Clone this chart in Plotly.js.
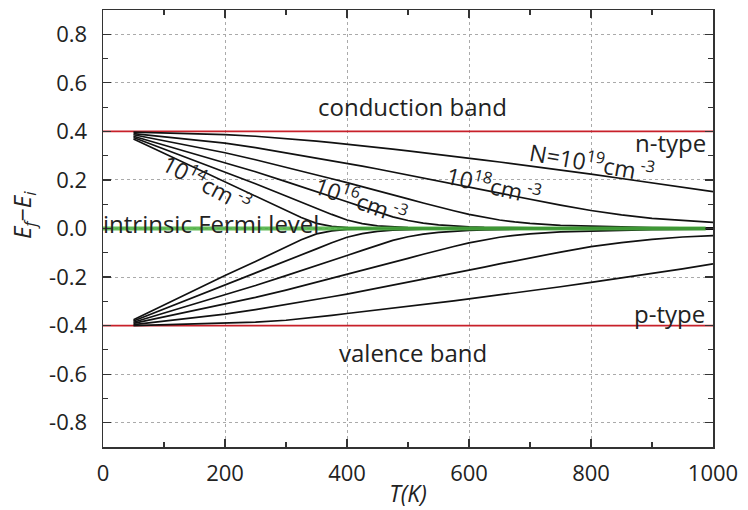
<!DOCTYPE html>
<html>
<head>
<meta charset="utf-8">
<script src="https://cdn.plot.ly/plotly-3.0.1.min.js"></script>
<style>html,body{margin:0;padding:0;background:#fff;}#chart{width:748px;height:510px;}</style>
</head>
<body>
<div id="chart"></div>
<script>
// Temperature samples (K)
const T = [50,100,150,200,250,300,325,350,375,400,425,450,475,500,525,550,575,600,625,650,675,700,750,800,850,900,950,1000];

// n-type curves Ef-Ei (eV)
const n19 = [.397,.394,.390,.387,.380,.371,.366,.360,.354,.348,.341,.334,.327,.320,.313,.306,.298,.290,.282,.274,.266,.258,.241,.224,.206,.189,.171,.152];
const n18 = [.391,.378,.365,.352,.333,.312,.302,.291,.280,.268,.257,.245,.233,.221,.209,.196,.184,.171,.159,.146,.133,.120,.096,.074,.056,.042,.032,.025];
const n17 = [.386,.361,.337,.312,.283,.253,.237,.221,.205,.189,.173,.156,.139,.122,.105,.088,.073,.058,.046,.035,.027,.021,.013,.009,.006,.004,.003,.003];
const n16 = [.380,.344,.309,.273,.234,.193,.173,.152,.131,.110,.089,.068,.048,.033,.022,.015,.010,.007,.005,.004,.003,.002,.001,.001,.001,0,0,0];
const n15 = [.375,.328,.280,.233,.184,.134,.108,.083,.058,.035,.020,.011,.006,.004,.002,.002,.001,.001,0,0,0,0,0,0,0,0,0,0];
const n14 = [.369,.310,.252,.193,.135,.074,.045,.021,.009,.004,.002,.001,0,0,0,0,0,0,0,0,0,0,0,0,0,0,0,0];

// p-type curves Ef-Ei (eV)
const p19 = [-.400,-.397,-.394,-.391,-.386,-.378,-.372,-.365,-.358,-.350,-.343,-.336,-.328,-.321,-.313,-.306,-.298,-.290,-.282,-.273,-.265,-.257,-.240,-.222,-.204,-.186,-.166,-.146];
const p18 = [-.396,-.382,-.367,-.353,-.334,-.314,-.303,-.292,-.281,-.270,-.258,-.246,-.234,-.222,-.209,-.196,-.184,-.171,-.159,-.146,-.133,-.121,-.097,-.075,-.058,-.045,-.035,-.029];
const p17 = [-.391,-.365,-.339,-.313,-.284,-.254,-.238,-.222,-.206,-.190,-.174,-.157,-.140,-.123,-.106,-.089,-.074,-.059,-.047,-.036,-.028,-.022,-.014,-.010,-.007,-.005,-.004,-.003];
const p16 = [-.386,-.349,-.311,-.274,-.235,-.194,-.174,-.153,-.132,-.111,-.090,-.069,-.049,-.034,-.023,-.016,-.011,-.008,-.006,-.004,-.003,-.002,-.001,-.001,-.001,0,0,0];
const p15 = [-.381,-.332,-.283,-.234,-.185,-.135,-.109,-.084,-.059,-.036,-.021,-.012,-.007,-.004,-.003,-.002,-.001,-.001,0,0,0,0,0,0,0,0,0,0];
const p14 = [-.376,-.315,-.255,-.194,-.136,-.076,-.046,-.022,-.010,-.004,-.002,-.001,0,0,0,0,0,0,0,0,0,0,0,0,0,0,0,0];

// Band edges and intrinsic level
const bandX = [0, 1000];
const Ec = [0.4, 0.4];
const Ev = [-0.4, -0.4];
const EiX = [0, 988];
const Ei = [0, 0];

// Tick labels
const xTickVals = [0,200,400,600,800,1000];
const xTickText = ["0","200","400","600","800","1000"];
const yTickVals = [-0.8,-0.6,-0.4,-0.2,0,0.2,0.4,0.6,0.8];
const yTickText = ["-0.8","-0.6","-0.4","-0.2","0.0","0.2","0.4","0.6","0.8"];

const FONT = "Open Sans, Lato, sans-serif";
const curveLine = {color: "#111", width: 1.7};
const curves = [n19,n18,n17,n16,n15,n14,p19,p18,p17,p16,p15,p14].map(y => ({
  x: T, y: y, type: "scatter", mode: "lines", line: curveLine, hoverinfo: "skip", showlegend: false
}));

const data = [
  {x: bandX, y: Ec, type: "scatter", mode: "lines", line: {color: "#c8202a", width: 1.6}, showlegend: false},
  {x: bandX, y: Ev, type: "scatter", mode: "lines", line: {color: "#c8202a", width: 1.6}, showlegend: false},
  ...curves,
  {x: EiX, y: Ei, type: "scatter", mode: "lines", line: {color: "rgba(70,175,60,0.85)", width: 4}, showlegend: false}
];

const annFont = {family: FONT, size: 24, color: "#222"};
const lblFont = {family: FONT, size: 23, color: "#222"};
const layout = {
  width: 748, height: 510,
  margin: {l: 103, r: 35, t: 10, b: 63},
  paper_bgcolor: "#fff", plot_bgcolor: "#fff",
  showlegend: false,
  font: {family: FONT, color: "#222"},
  xaxis: {
    range: [0, 1000], tickvals: xTickVals, ticktext: xTickText,
    ticks: "inside", ticklen: 8, tickcolor: "#333", tickwidth: 1.2,
    showline: true, linecolor: "#333", linewidth: 1.5, mirror: "ticks",
    showgrid: true, gridcolor: "#aaa", griddash: "dot", gridwidth: 1,
    zeroline: false, tickfont: {family: FONT, size: 22, color: "#222"},
    ticklabelstandoff: 6,
    minor: {dtick: 100, tick0: 0, ticks: "inside", ticklen: 5, tickcolor: "#333", showgrid: false},
    title: {text: "<i>T(K)</i>", font: {family: FONT, size: 23, color: "#222"}, standoff: 0}
  },
  yaxis: {
    range: [-0.9, 0.9], tickvals: yTickVals, ticktext: yTickText,
    ticks: "inside", ticklen: 8, tickcolor: "#333", tickwidth: 1.2,
    showline: true, linecolor: "#333", linewidth: 1.5, mirror: "ticks",
    showgrid: true, gridcolor: "#aaa", griddash: "dot", gridwidth: 1,
    zeroline: false, tickfont: {family: FONT, size: 22, color: "#222"},
    ticklabelstandoff: 10,
    minor: {dtick: 0.1, tick0: 0, ticks: "inside", ticklen: 5, tickcolor: "#333", showgrid: false}
  },
  annotations: [
    {xref: "paper", yref: "paper", x: -0.13, y: 0.53, text: "<i>E<sub>f</sub>−E<sub>i</sub></i>", textangle: -90, showarrow: false, font: {family: FONT, size: 24, color: "#222"}, xanchor: "center", yanchor: "middle"},
    {x: 508, y: 0.504, text: "conduction band", showarrow: false, font: annFont},
    {x: 508, y: -0.512, text: "valence band", showarrow: false, font: annFont},
    {x: 992, y: 0.355, text: "n-type", showarrow: false, font: annFont, xanchor: "right"},
    {x: 990, y: -0.351, text: "p-type", showarrow: false, font: annFont, xanchor: "right"},
    {x: 0, y: 0.02, text: "intrinsic Fermi level", showarrow: false, font: annFont, xanchor: "left", xshift: -2},
    {x: 170, y: 0.186, text: "10<sup>14</sup>cm<sup> -3</sup>", showarrow: false, font: lblFont, textangle: 28},
    {x: 423, y: 0.116, text: "10<sup>16</sup>cm<sup> -3</sup>", showarrow: false, font: lblFont, textangle: 20},
    {x: 641, y: 0.178, text: "10<sup>18</sup>cm<sup> -3</sup>", showarrow: false, font: lblFont, textangle: 13},
    {x: 802, y: 0.273, text: "N=10<sup>19</sup>cm<sup> -3</sup>", showarrow: false, font: lblFont, textangle: 10}
  ]
};

Plotly.newPlot("chart", data, layout, {staticPlot: true, displayModeBar: false});
</script>
</body>
</html>
